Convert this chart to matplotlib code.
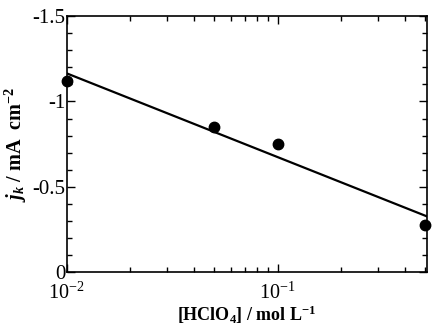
import numpy as np
import matplotlib.pyplot as plt
from matplotlib.ticker import FixedLocator, FixedFormatter, LogLocator, NullFormatter

plt.rcParams['font.family'] = ['Liberation Serif', 'DejaVu Serif']
plt.rcParams['mathtext.fontset'] = 'custom'
plt.rcParams['mathtext.rm'] = 'Liberation Serif'
plt.rcParams['mathtext.it'] = 'Liberation Serif:italic:bold'
plt.rcParams['mathtext.bf'] = 'Liberation Serif:bold'
plt.rcParams['axes.unicode_minus'] = False

# measured points
conc = [0.01, 0.05, 0.1, 0.5]
jk = [-1.12, -0.85, -0.75, -0.28]

# fitted line end points
fit_conc = [0.01, 0.51]
fit_jk = [-1.165, -0.328]

y_ticks = [0, -0.5, -1, -1.5]
y_labels = ['0', '-0.5', '-1', '-1.5']
x_ticks = [0.01, 0.1]
x_labels = [r'$\mathdefault{10^{-2}}$', r'$\mathdefault{10^{-1}}$']

fig = plt.figure(figsize=(4.32, 3.27), dpi=100)
ax = fig.add_axes([0.154, 0.167, 0.834, 0.784])

ax.plot(fit_conc, fit_jk, color='black', lw=1.6, zorder=2)
ax.plot(conc, jk, 'o', color='black', ms=7.5, zorder=3, clip_on=False)

ax.set_xscale('log')
ax.set_xlim(0.01, 0.51)
ax.set_ylim(0, -1.5)

ax.xaxis.set_major_locator(FixedLocator(x_ticks))
ax.xaxis.set_major_formatter(FixedFormatter(x_labels))
ax.xaxis.set_minor_locator(LogLocator(base=10, subs=np.arange(2, 10)))
ax.xaxis.set_minor_formatter(NullFormatter())
ax.yaxis.set_major_locator(FixedLocator(y_ticks))
ax.yaxis.set_major_formatter(FixedFormatter(y_labels))
ax.yaxis.set_minor_locator(FixedLocator(np.arange(0, -1.55, -0.1)))

ax.tick_params(which='both', direction='in', top=True, right=True, labelsize=15, width=1)
ax.tick_params(which='major', length=6)
ax.tick_params(which='minor', length=3.5)
ax.tick_params(axis='x', pad=7.5, labelsize=14.5)
ax.tick_params(axis='y', pad=1)
for s in ax.spines.values():
    s.set_linewidth(1.2)

ax.set_xlabel(r'[HClO$_{\mathbf{4}}$] / mol L$^{\mathbf{-1}}$', fontsize=13, fontweight='bold', labelpad=0)
ax.set_ylabel(r'$j_k$ / mA  cm$^{\mathbf{-2}}$', fontsize=14.5, fontweight='bold', labelpad=2)

fig.savefig('out.png', dpi=100)
